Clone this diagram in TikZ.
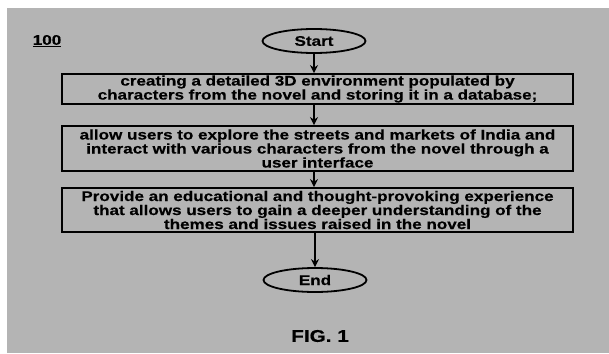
\documentclass[tikz,border=0pt]{standalone}
\usepackage{fontspec}
\setmainfont{Liberation Sans}[FakeStretch=1.22,BoldFeatures={FakeBold=0.4}]
\usetikzlibrary{shapes.geometric,arrows.meta}
\definecolor{bg}{RGB}{180,180,180}
\begin{document}
\begin{tikzpicture}[x=1pt,y=-1pt,
  stepbox/.style={draw=black,line width=1.8pt,minimum width=511pt,text width=505pt,align=center,
    font=\fontsize{14}{14}\selectfont\bfseries,inner sep=0pt},
  term/.style={ellipse,draw=black,line width=1.8pt,minimum width=103pt,minimum height=24pt,
    inner sep=0pt,font=\fontsize{14}{14}\selectfont\bfseries},
  conn/.style={-{Stealth[length=8pt,width=8pt]},line width=1.5pt},
  lbl/.style={font=\fontsize{14}{14}\selectfont\bfseries,inner sep=0pt}]
\useasboundingbox (0,0) rectangle (609,353);
\fill[white] (0,0) rectangle (609,353);
\fill[bg] (7,8) rectangle (609,353);
\node[lbl] (ref) at (47,41) {\underline{100}};
\node[term] (start) at (314,41) {Start};
\node[stepbox,minimum height=30pt] (b1) at (317.5,89)
  {creating a detailed 3D environment populated by\\characters from the novel and storing it in a database;};
\node[stepbox,minimum height=45pt] (b2) at (317.5,148.5)
  {allow users to explore the streets and markets of India and\\interact with various characters from the novel through a\\user interface};
\node[stepbox,minimum height=44pt] (b3) at (317.5,210)
  {Provide an educational and thought-provoking experience\\that allows users to gain a deeper understanding of the\\themes and issues raised in the novel};
\node[term] (end) at (315,280) {End};
\node[lbl,font=\fontsize{17}{17}\selectfont\bfseries] (fig) at (320,336) {FIG. 1};
\draw[conn] (start.south) -- (start.south |- b1.north);
\draw[conn] (b1.south -| start.south) -- (start.south |- b2.north);
\draw[conn] (b2.south -| start.south) -- (start.south |- b3.north);
\draw[conn] (b3.south -| end.north) -- (end.north);
\end{tikzpicture}
\end{document}
